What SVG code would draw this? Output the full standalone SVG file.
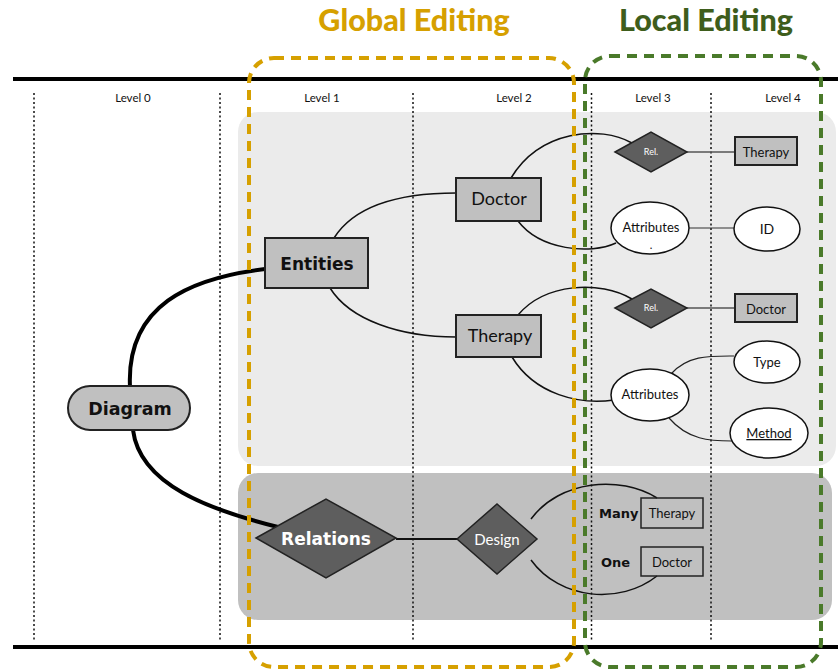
<svg xmlns="http://www.w3.org/2000/svg" width="838" height="672" viewBox="0 0 838 672">
<style>
.t{font-family:Lato,"Open Sans",sans-serif;fill:#111}
.b{font-family:"DejaVu Sans","Liberation Sans",sans-serif;font-weight:bold}
.lvl{font-size:11.5px;text-anchor:middle}
.dot{stroke:#111;stroke-width:1.5;stroke-dasharray:2 2.5;fill:none}
.box{fill:#c0c0c0;stroke:#222;stroke-width:2}
.wbox{fill:none;stroke:#222;stroke-width:1.5}
.ell{fill:#fff;stroke:#111;stroke-width:1.5}
.dia{fill:#5e5e5e;stroke:#222;stroke-width:1.5}
.c{fill:none;stroke:#111;stroke-width:1.5}
.thick{fill:none;stroke:#000;stroke-width:4}
.mid{text-anchor:middle}
.title{font-family:Lato,"Open Sans",sans-serif;font-weight:900;font-size:30.5px;text-anchor:middle}
</style>
<rect width="838" height="672" fill="#fff"/>
<!-- panels -->
<rect x="238" y="112" width="598" height="354" rx="20" fill="#ebebeb"/>
<rect x="238" y="473" width="594" height="147" rx="20" fill="#c0c0c0"/>
<!-- level lines -->
<line x1="13" y1="79" x2="838" y2="79" stroke="#000" stroke-width="4"/>
<line x1="13" y1="647" x2="838" y2="647" stroke="#000" stroke-width="4"/>
<g id="levels">
<line class="dot" x1="34" y1="93" x2="34" y2="640"/>
<line class="dot" x1="220" y1="93" x2="220" y2="640"/>
<line class="dot" x1="413" y1="93" x2="413" y2="640"/>
<line class="dot" x1="591.5" y1="93" x2="591.5" y2="640"/>
<line class="dot" x1="711" y1="93" x2="711" y2="640"/>
<text class="t lvl" x="133" y="102">Level 0</text>
<text class="t lvl" x="322" y="102">Level 1</text>
<text class="t lvl" x="514" y="102">Level 2</text>
<text class="t lvl" x="653" y="102">Level 3</text>
<text class="t lvl" x="783" y="102">Level 4</text>
</g>
<!-- titles -->
<text x="414" y="31" class="title" fill="#d6a000">Global Editing</text>
<text x="706" y="31" class="title" fill="#3e5d1c">Local Editing</text>
<!-- connectors -->
<g id="connectors">
<path class="thick" d="M130,387 C126,305 190,278 265,269"/>
<path class="thick" d="M133,430 C140,485 210,510 278,527"/>
<path class="c" d="M334,238 C355,205 400,193 456,193"/>
<path class="c" d="M330,288 C350,320 400,337 456,337"/>
<path class="c" d="M511,178 C540,130 600,125 632,143"/>
<path class="c" d="M518,221 C540,250 590,255 616,243"/>
<path class="c" d="M518,315 C545,283 600,280 632,299"/>
<path class="c" d="M512,357 C535,395 580,405 614,400"/>
<line x1="687" y1="152" x2="735" y2="152" stroke="#555" stroke-width="1.5"/>
<line x1="689" y1="228" x2="734" y2="228" stroke="#333" stroke-width="1.2"/>
<line x1="687" y1="308" x2="735" y2="308" stroke="#555" stroke-width="1.5"/>
<path fill="none" stroke="#222" stroke-width="1.2" d="M671,374 C688,355 710,356 734,356"/>
<path fill="none" stroke="#222" stroke-width="1.2" d="M669,418 C688,440 710,441 732,441"/>
<line x1="396" y1="539" x2="457" y2="539" stroke="#111" stroke-width="2"/>
<path class="c" d="M531,519 C560,480 620,475 657,498"/>
<path class="c" d="M531,560 C560,600 620,605 657,576"/>
</g>
<!-- nodes -->
<g id="diagram">
<rect x="68" y="386" width="122" height="44" rx="22" class="box" stroke-width="1.5"/>
<text class="b mid" x="130" y="415" font-size="17.5" fill="#111">Diagram</text>
</g>
<g id="entities">
<rect x="265" y="238" width="103" height="50" class="box"/>
<text class="b mid" x="317" y="270" font-size="17" fill="#111">Entities</text>
</g>
<g id="doctor">
<rect x="456" y="178" width="85" height="43" class="box"/>
<text class="t mid" x="499" y="205" font-size="18">Doctor</text>
</g>
<g id="therapy">
<rect x="456" y="315" width="85" height="42" class="box"/>
<text class="t mid" x="500" y="342" font-size="18">Therapy</text>
</g>
<g id="relations">
<polygon points="256,538 326,499 396,538 326,578" class="dia"/>
<text class="b mid" x="326" y="545" font-size="17" fill="#fff">Relations</text>
</g>
<g id="design">
<polygon points="457,539 497,504 537,539 497,574" class="dia"/>
<text class="mid" x="497" y="545" font-family="Lato,'Open Sans',sans-serif" font-size="15" fill="#fff">Design</text>
</g>
<g id="rel1">
<polygon points="615,152 651,132 687,152 651,172" class="dia"/>
<text class="mid" x="651" y="155" font-family="Lato,'Open Sans',sans-serif" font-size="9" fill="#fff">Rel.</text>
</g>
<g id="therapy-l4">
<rect x="735" y="137" width="62" height="28" class="box" stroke-width="1.5"/>
<text class="t mid" x="766" y="157" font-size="13">Therapy</text>
</g>
<g id="attributes1">
<ellipse cx="650" cy="228" rx="39" ry="26" class="ell"/>
<text class="t mid" x="651" y="232" font-size="13">Attributes</text>
<text class="t mid" x="651" y="249" font-size="11">.</text>
</g>
<g id="id">
<ellipse cx="767" cy="229" rx="33" ry="22" class="ell"/>
<text class="t mid" x="767" y="234" font-size="14">ID</text>
</g>
<g id="rel2">
<polygon points="615,308 651,289 687,308 651,328" class="dia"/>
<text class="mid" x="651" y="311" font-family="Lato,'Open Sans',sans-serif" font-size="9" fill="#fff">Rel.</text>
</g>
<g id="doctor-l4">
<rect x="735" y="294" width="62" height="28" class="box" stroke-width="1.5"/>
<text class="t mid" x="766" y="314" font-size="13">Doctor</text>
</g>
<g id="type">
<ellipse cx="767" cy="362" rx="33" ry="21" class="ell"/>
<text class="t mid" x="767" y="367" font-size="13">Type</text>
</g>
<g id="attributes2">
<ellipse cx="650" cy="395" rx="39" ry="26" class="ell"/>
<text class="t mid" x="650" y="399" font-size="13">Attributes</text>
</g>
<g id="method">
<ellipse cx="769" cy="433" rx="39" ry="25" class="ell"/>
<text class="t mid" x="769" y="438" font-size="13" text-decoration="underline">Method</text>
</g>
<g id="many-therapy">
<text class="b" x="599" y="518" font-size="13" fill="#111">Many</text>
<rect x="641" y="498" width="62" height="30" class="wbox"/>
<text class="t mid" x="672" y="518" font-size="13">Therapy</text>
</g>
<g id="one-doctor">
<text class="b" x="601" y="567" font-size="13" fill="#111">One</text>
<rect x="641" y="547" width="62" height="29" class="wbox"/>
<text class="t mid" x="672" y="567" font-size="13">Doctor</text>
</g>
<!-- editing regions -->
<rect x="249" y="58" width="325" height="609" rx="25" fill="none" stroke="#d6a000" stroke-width="4" stroke-dasharray="10 7"/>
<rect x="585" y="56" width="236" height="611" rx="25" fill="none" stroke="#4a7a2a" stroke-width="4" stroke-dasharray="10 7"/>
</svg>
